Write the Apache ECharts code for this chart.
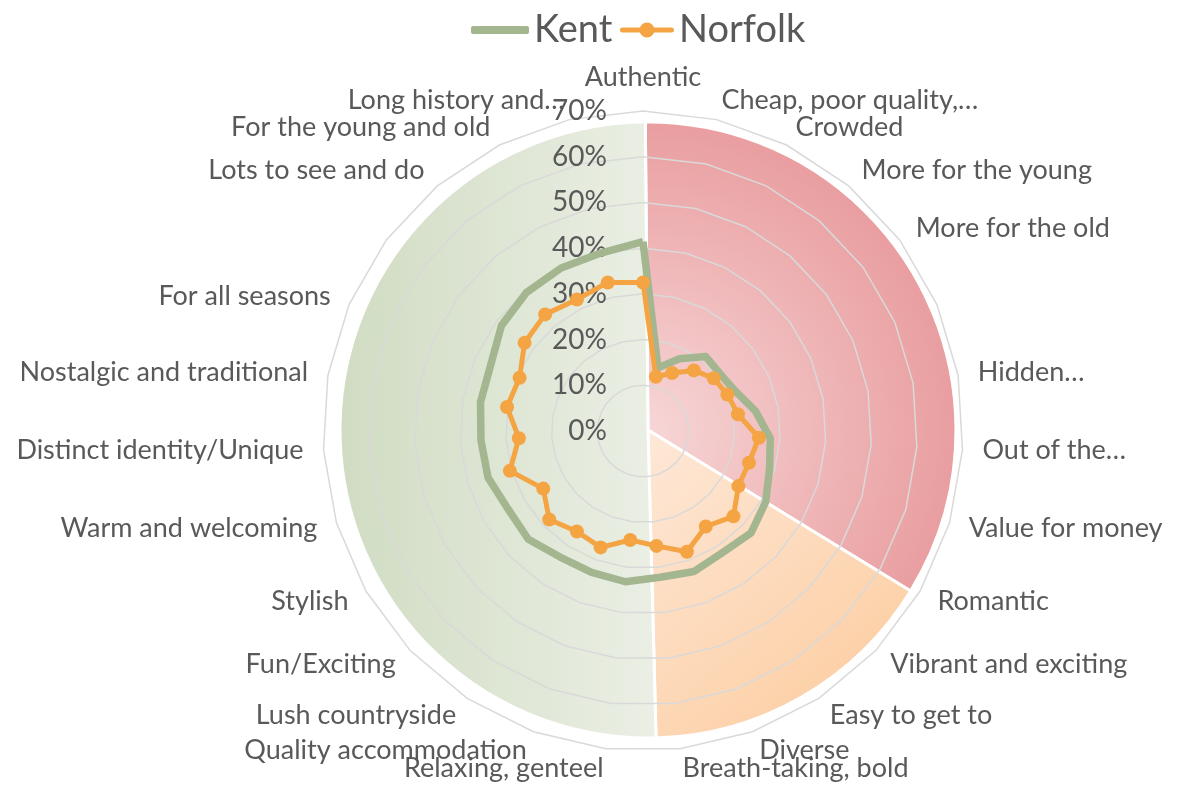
<!DOCTYPE html>
<html>
<head>
<meta charset="utf-8">
<script src="https://cdn.jsdelivr.net/npm/echarts@6/dist/echarts.min.js"></script>
<style>
  html, body { margin: 0; padding: 0; background: #ffffff; }
  #chart { width: 1178px; height: 786px; }
</style>
</head>
<body>
<div id="chart"></div>
<script>
// Attributes, listed clockwise from the top of the radar
const categories = [
  'Authentic', 'Cheap, poor quality,…', 'Crowded', 'More for the young', 'More for the old', '',
  'Hidden…', 'Out of the…', 'Value for money', 'Romantic', 'Vibrant and exciting', 'Easy to get to',
  'Diverse', 'Breath-taking, bold', 'Relaxing, genteel', 'Quality accommodation', 'Lush countryside',
  'Fun/Exciting', 'Stylish', 'Warm and welcoming', 'Distinct identity/Unique', 'Nostalgic and traditional',
  'For all seasons', '', 'Lots to see and do', 'For the young and old', 'Long history and…'
];

// Share of respondents (%) per attribute, same clockwise order
const kent = [
  41.4, 14.2, 17.7, 21.3, 21.0, 22.0, 25.0, 27.9, 28.9, 31.0, 32.5, 31.8, 32.7, 32.2,
  33.2, 32.9, 33.0, 34.5, 34.1, 35.4, 35.5, 36.1, 36.3, 38.6, 39.6, 39.9, 40.0
];
const norfolk = [
  32.5, 12.2, 14.2, 17.3, 19.3, 20.1, 21.1, 25.4, 24.2, 24.1, 27.2, 25.0, 28.1, 25.3,
  24.0, 27.1, 26.3, 28.2, 25.2, 30.4, 27.2, 30.2, 29.4, 32.3, 33.3, 32.2, 33.4
];

// Radial scale (percent)
const scaleMax = 70;
const scaleSteps = 7;

// Background bands behind the radar, sweep in degrees (clockwise from top)
const bandNames = ['Drawbacks', 'Energy', 'Appeal'];
const bandSweep = [122, 57, 181];

const seriesNames = ['Kent', 'Norfolk'];

// ECharts lays radar indicators out counter-clockwise, so walk the list backwards
const order = [0];
for (let i = categories.length - 1; i >= 1; i--) order.push(i);

const bandCenter = [648, 430];
const bandRadius = 308;

const G = echarts.graphic.LinearGradient;
const R = echarts.graphic.RadialGradient;
const bandColors = [
  new R(bandCenter[0], bandCenter[1], bandRadius,
    [{ offset: 0, color: '#f7d6d7' }, { offset: 1, color: '#e99ea0' }], true),
  new G(0, 0, 1, 1, [{ offset: 0, color: '#fee8d8' }, { offset: 1, color: '#fcca9a' }]),
  new G(0, 0, 1, 0, [{ offset: 0, color: '#d0dcc2' }, { offset: 1, color: '#ebefe5' }])
];

const textColor = '#595959';
const font = 'Lato, "Open Sans", sans-serif';
const kentColor = '#a4b690';
const norfolkColor = '#f4a443';

const chart = echarts.init(document.getElementById('chart'), null, { renderer: 'canvas' });

chart.setOption({
  backgroundColor: '#ffffff',
  animation: false,
  legend: [
    {
      data: [seriesNames[0]],
      left: 466, top: 6,
      icon: 'roundRect',
      itemWidth: 58, itemHeight: 8,
      textStyle: { fontSize: 38, color: textColor, fontFamily: font }
    },
    {
      data: [seriesNames[1]],
      left: 615, top: 6,
      icon: 'path://M2.5,5 H20 V10 H2.5 A2.5,2.5 0 0 1 2.5,5 Z M34,5 H51.5 A2.5,2.5 0 0 1 51.5,10 H34 Z M19.5,7.5 A7.5,7.5 0 1 1 34.5,7.5 A7.5,7.5 0 1 1 19.5,7.5 Z',
      itemWidth: 54, itemHeight: 15,
      textStyle: { fontSize: 38, color: textColor, fontFamily: font }
    }
  ],
  radar: {
    z: 2,
    center: [643, 431],
    radius: 320,
    startAngle: 90,
    shape: 'polygon',
    splitNumber: scaleSteps,
    nameGap: 20,
    axisName: { color: textColor, fontSize: 27, fontFamily: font },
    splitLine: { lineStyle: { color: '#d9d9d9', width: 1.5 } },
    splitArea: { show: false },
    axisLine: { show: false },
    axisTick: { show: false },
    axisLabel: { show: false },
    indicator: order.map((idx, k) => {
      const ind = { name: categories[idx], min: 0, max: scaleMax };
      if (k === 0) {
        ind.axisLabel = {
          show: true, margin: 36, color: textColor, fontSize: 28, fontFamily: font,
          formatter: '{value}%', showMinLabel: true, showMaxLabel: true
        };
      }
      return ind;
    })
  },
  series: [
    {
      type: 'pie',
      z: 1,
      silent: true,
      center: bandCenter,
      radius: [0, bandRadius],
      startAngle: 90.5,
      clockwise: true,
      label: { show: false },
      labelLine: { show: false },
      itemStyle: { borderColor: '#ffffff', borderWidth: 3 },
      data: bandSweep.map((v, i) => ({ name: bandNames[i], value: v, itemStyle: { color: bandColors[i] } }))
    },
    {
      type: 'radar',
      z: 3,
      silent: true,
      data: [
        {
          name: seriesNames[0],
          value: order.map(i => kent[i]),
          symbol: 'none',
          lineStyle: { color: kentColor, width: 7.5 },
          itemStyle: { color: kentColor }
        },
        {
          name: seriesNames[1],
          value: order.map(i => norfolk[i]),
          symbol: 'circle',
          symbolSize: 14,
          lineStyle: { color: norfolkColor, width: 5 },
          itemStyle: { color: norfolkColor }
        }
      ]
    }
  ]
});
</script>
</body>
</html>
